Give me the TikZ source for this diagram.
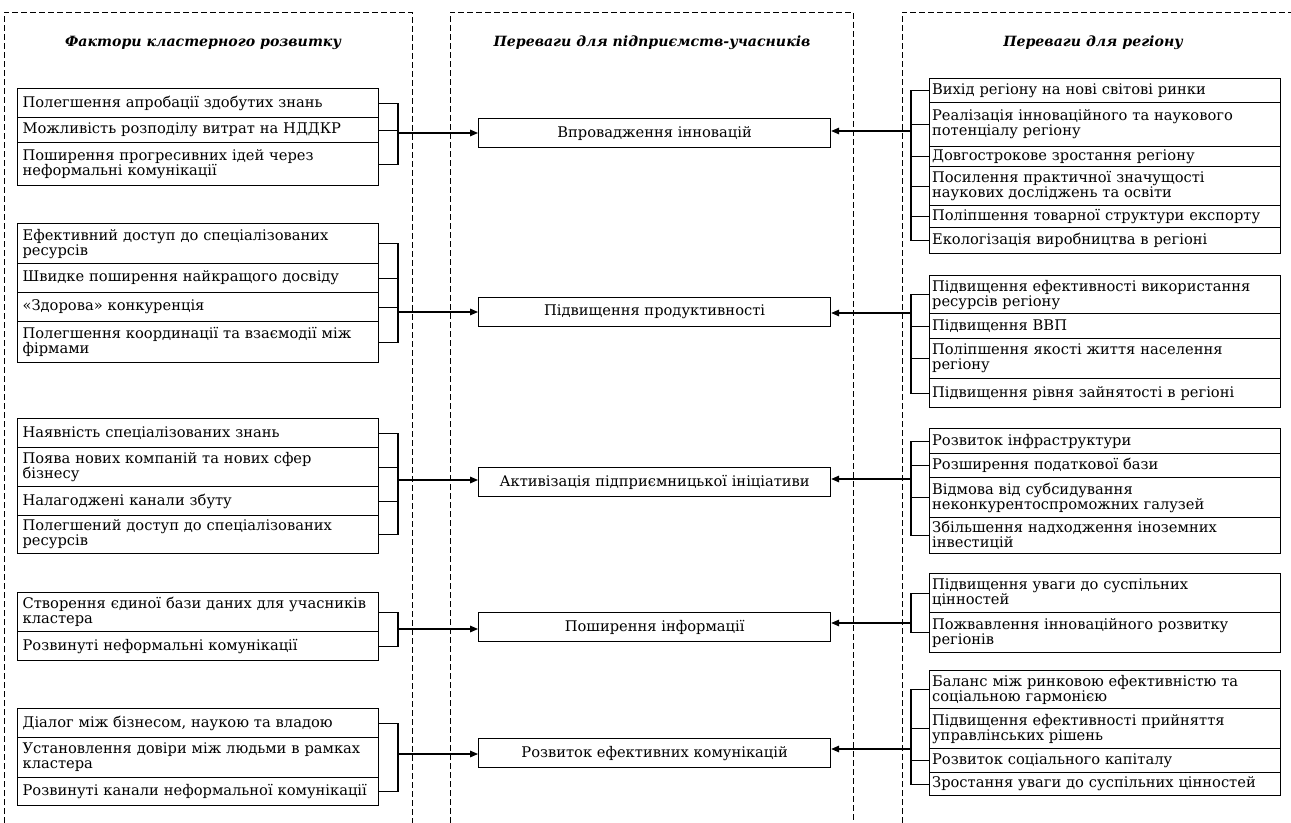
\documentclass[tikz,border=0pt]{standalone}
\usepackage{fontspec}
\setmainfont{DejaVu Serif}
\usetikzlibrary{arrows.meta}
\newcommand\bodyfs{\fontsize{11}{11.25}\selectfont}
\newcommand\titlefs{\fontsize{10.6}{13}\selectfont\bfseries\itshape}
\begin{document}
\begin{tikzpicture}[x=0.75pt,y=-0.75pt,
  frame/.style={line width=0.6pt, dash pattern=on 4.5pt off 2.25pt},
  lbox/.style={draw, line width=0.9pt, anchor=north west, text width=263.25pt,
    inner xsep=3.75pt, inner ysep=0pt, align=left, font=\bodyfs},
  rbox/.style={draw, line width=0.9pt, anchor=north west, text width=259.5pt,
    inner xsep=1.875pt, inner ysep=0pt, align=left, font=\bodyfs},
  cbox/.style={draw, line width=0.9pt, anchor=north west, minimum width=264pt,
    minimum height=21.75pt, inner sep=0pt, align=center, font=\bodyfs},
  ttl/.style={font=\titlefs, inner sep=0pt},
  conn/.style={line width=0.8pt},
  arr/.style={line width=0.8pt, -{Triangle[length=6pt,width=5pt]}}]
\newcommand\LB[4]{\node[lbox, minimum height={(#3-#2)*0.75pt}] (#1) at (17,#2) {#4};}
\newcommand\RB[4]{\node[rbox, minimum height={(#3-#2)*0.75pt}] (#1) at (929,#2) {#4};}
\useasboundingbox (0,0) rectangle (1291,823);
% column frames
\draw[frame] (4,823) -- (4,12) -- (412,12) -- (412,823);
\draw[frame] (450,823) -- (450,12) -- (853,12) -- (853,823);
\draw[frame] (902,823) -- (902,12) -- (1291,12);
% titles
\node[ttl] (t1) at (203,43) {Фактори кластерного розвитку};
\node[ttl] (t2) at (652,43) {Переваги для підприємств-учасників};
\node[ttl] (t3) at (1093,43) {Переваги для регіону};
% centre boxes
\node[cbox] (c1) at (478,118) {Впровадження інновацій};
\node[cbox] (c2) at (478,297) {Підвищення продуктивності};
\node[cbox] (c3) at (478,467) {Активізація підприємницької ініціативи};
\node[cbox] (c4) at (478,612) {Поширення інформації};
\node[cbox] (c5) at (478,738) {Розвиток ефективних комунікацій};
% left boxes
\LB{l11}{88}{117}{Полегшення апробації здобутих знань}
\LB{l12}{117}{142}{Можливість розподілу витрат на НДДКР}
\LB{l13}{142}{185}{Поширення прогресивних ідей через\\неформальні комунікації}
\LB{l21}{223}{263}{Ефективний доступ до спеціалізованих\\ресурсів}
\LB{l22}{263}{292}{Швидке поширення найкращого досвіду}
\LB{l23}{292}{321}{«Здорова» конкуренція}
\LB{l24}{321}{362}{Полегшення координації та взаємодії між\\фірмами}
\LB{l31}{418}{447}{Наявність спеціалізованих знань}
\LB{l32}{447}{486}{Поява нових компаній та нових сфер\\бізнесу}
\LB{l33}{486}{515}{Налагоджені канали збуту}
\LB{l34}{515}{553}{Полегшений доступ до спеціалізованих\\ресурсів}
\LB{l41}{592}{631}{Створення єдиної бази даних для учасників\\кластера}
\LB{l42}{631}{660}{Розвинуті неформальні комунікації}
\LB{l51}{708}{737}{Діалог між бізнесом, наукою та владою}
\LB{l52}{737}{777}{Установлення довіри між людьми в рамках\\кластера}
\LB{l53}{777}{805}{Розвинуті канали неформальної комунікації}
% right boxes
\RB{r11}{78}{102}{Вихід регіону на нові світові ринки}
\RB{r12}{102}{146}{Реалізація інноваційного та наукового\\потенціалу регіону}
\RB{r13}{146}{166}{Довгострокове зростання регіону}
\RB{r14}{166}{205}{Посилення практичної значущості\\наукових досліджень та освіти}
\RB{r15}{205}{227}{Поліпшення товарної структури експорту}
\RB{r16}{227}{253}{Екологізація виробництва в регіоні}
\RB{r21}{275}{313}{Підвищення ефективності використання\\ресурсів регіону}
\RB{r22}{313}{338}{Підвищення ВВП}
\RB{r23}{338}{378}{Поліпшення якості життя населення\\регіону}
\RB{r24}{378}{407}{Підвищення рівня зайнятості в регіоні}
\RB{r31}{428}{453}{Розвиток інфраструктури}
\RB{r32}{453}{477}{Розширення податкової бази}
\RB{r33}{477}{517}{Відмова від субсидування\\неконкурентоспроможних галузей}
\RB{r34}{517}{553}{Збільшення надходження іноземних\\інвестицій}
\RB{r41}{573}{612}{Підвищення уваги до суспільних\\цінностей}
\RB{r42}{612}{652}{Пожвавлення інноваційного розвитку\\регіонів}
\RB{r51}{670}{708}{Баланс між ринковою ефективністю та\\соціальною гармонією}
\RB{r52}{708}{748}{Підвищення ефективності прийняття\\управлінських рішень}
\RB{r53}{748}{772}{Розвиток соціального капіталу}
\RB{r54}{772}{795}{Зростання уваги до суспільних цінностей}
% bracket columns
\coordinate (lb) at (398,0);
\coordinate (rb) at (911,0);
% left brackets
\draw[conn] (l11.east) -- (l11.east -| lb) -- (l13.east -| lb) -- (l13.east);
\draw[conn] (l12.east) -- (l12.east -| lb);
\draw[conn] (l21.east) -- (l21.east -| lb) -- (l24.east -| lb) -- (l24.east);
\draw[conn] (l22.east) -- (l22.east -| lb);
\draw[conn] (l23.east) -- (l23.east -| lb);
\draw[conn] (l31.east) -- (l31.east -| lb) -- (l34.east -| lb) -- (l34.east);
\draw[conn] (l32.east) -- (l32.east -| lb);
\draw[conn] (l33.east) -- (l33.east -| lb);
\draw[conn] (l41.east) -- (l41.east -| lb) -- (l42.east -| lb) -- (l42.east);
\draw[conn] (l51.east) -- (l51.east -| lb) -- (l53.east -| lb) -- (l53.east);
% right brackets
\draw[conn] (r11.west) -- (r11.west -| rb) -- (r16.west -| rb) -- (r16.west);
\foreach \n in {r12,r13,r14,r15} \draw[conn] (\n.west) -- (\n.west -| rb);
\draw[conn] (r21.west) -- (r21.west -| rb) -- (r24.west -| rb) -- (r24.west);
\foreach \n in {r22,r23} \draw[conn] (\n.west) -- (\n.west -| rb);
\draw[conn] (r31.west) -- (r31.west -| rb) -- (r34.west -| rb) -- (r34.west);
\foreach \n in {r32,r33} \draw[conn] (\n.west) -- (\n.west -| rb);
\draw[conn] (r41.west) -- (r41.west -| rb) -- (r42.west -| rb) -- (r42.west);
\draw[conn] (r51.west) -- (r51.west -| rb) -- (r54.west -| rb) -- (r54.west);
\foreach \n in {r52,r53} \draw[conn] (\n.west) -- (\n.west -| rb);
% junctions and arrows
\coordinate (lj1) at (398,133);
\coordinate (lj2) at (398,312);
\coordinate (lj3) at (398,480);
\coordinate (lj4) at (398,629);
\coordinate (lj5) at (398,754);
\coordinate (rj1) at (911,131);
\coordinate (rj2) at (911,313);
\coordinate (rj3) at (911,479);
\coordinate (rj4) at (911,623);
\coordinate (rj5) at (911,749);
\foreach \i in {1,...,5} {
  \draw[arr] (lj\i) -- (lj\i -| c\i.west);
  \draw[arr] (rj\i) -- (rj\i -| c\i.east);
}
\end{tikzpicture}
\end{document}
